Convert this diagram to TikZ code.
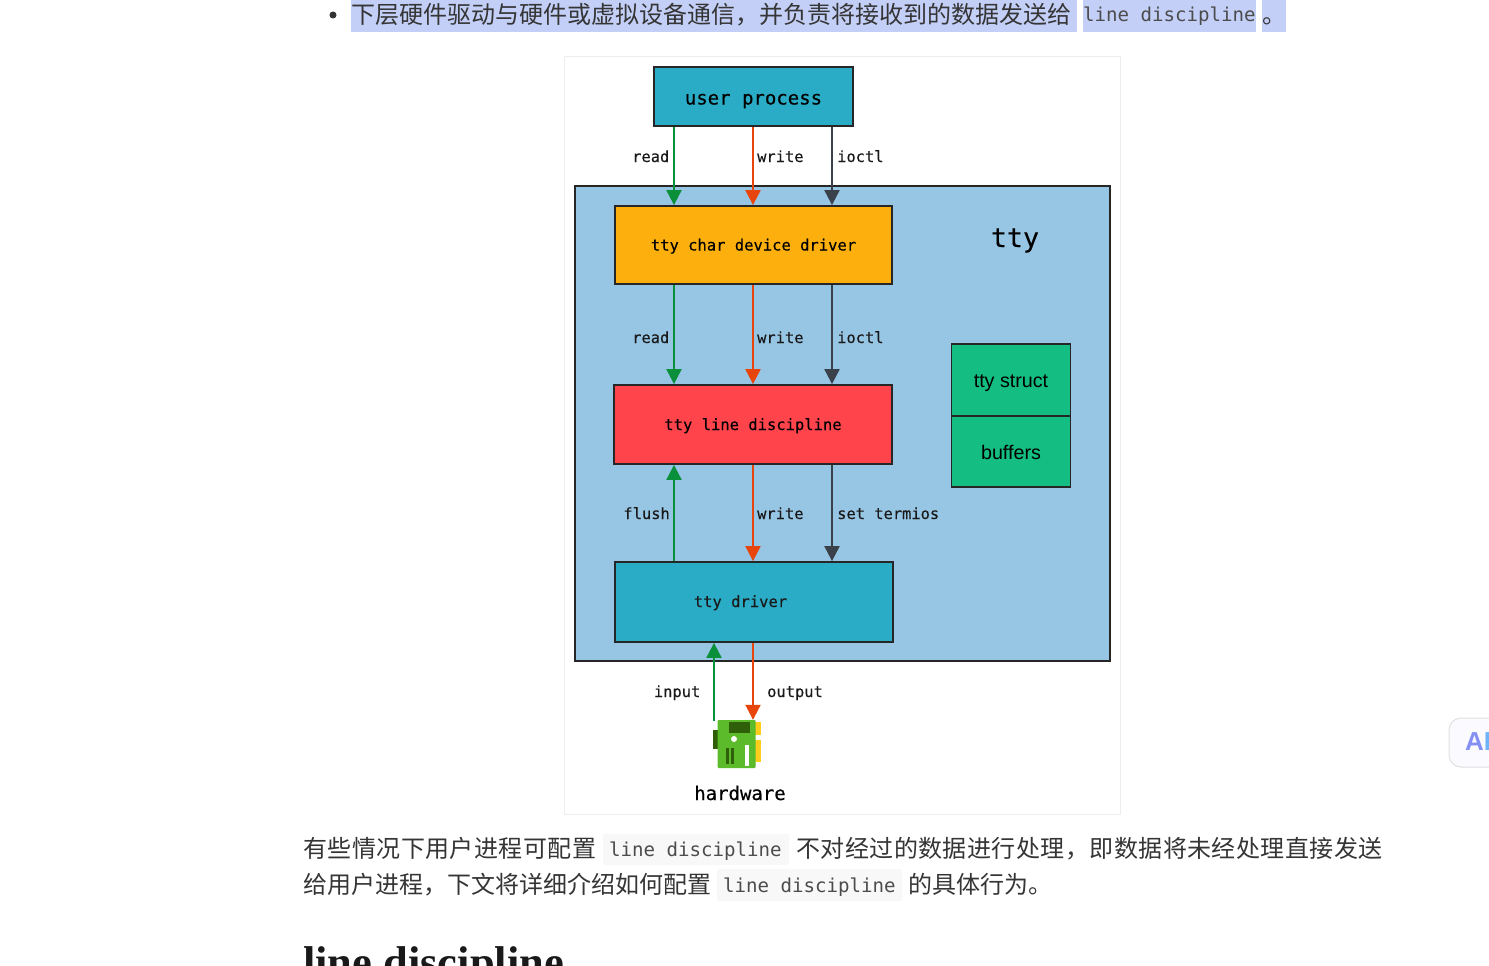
\documentclass[tikz,border=0pt]{standalone}
\usepackage{xcolor}
\usepackage{fontspec}
\setmainfont{Liberation Sans}
\setmonofont{DejaVu Sans Mono}
\newfontfamily\diagfont[FakeBold=0.25]{DejaVu Sans Mono}
\newfontfamily\cjk{Noto Sans CJK SC}
\newfontfamily\cjkwide[LetterSpace=1.9]{Noto Sans CJK SC}
\newfontfamily\headfont{Liberation Serif}
\usetikzlibrary{arrows.meta}

\definecolor{boxcyan}{HTML}{2AABC6}
\definecolor{boxorange}{HTML}{FDB00D}
\definecolor{boxred}{HTML}{FF444C}
\definecolor{boxblue}{HTML}{97C5E4}
\definecolor{boxgreen}{HTML}{14BE82}
\definecolor{linegreen}{HTML}{0A8F3B}
\definecolor{lineorange}{HTML}{E8450D}
\definecolor{linedark}{HTML}{3A414A}
\definecolor{bodytext}{HTML}{353535}
\definecolor{selectbg}{HTML}{C3CFF7}
\definecolor{chipbg}{HTML}{F8F8F8}
\definecolor{chipgreen}{HTML}{5CBB2A}
\definecolor{chipdark}{HTML}{2F5F08}
\definecolor{chipyellow}{HTML}{FFCE1C}
\definecolor{aiviolet}{HTML}{8590F5}
\definecolor{aiblue}{HTML}{6FB4F8}

\begin{document}
\begin{tikzpicture}[x=1pt,y=-1pt,
    box/.style={draw=black!85, line width=1.8pt, inner sep=0pt},
    flow/.style={line width=2pt, -{Triangle[width=15pt,length=15pt]}},
    lbl/.style={font=\fontsize{15.4}{16}\selectfont\diagfont, text=black!90, inner sep=0pt, anchor=base},
    para/.style={font=\fontsize{24}{26}\selectfont\cjk, text=bodytext, anchor=base west, inner sep=0pt},
    widepara/.style={para, font=\fontsize{24}{26}\selectfont\cjkwide},
    code/.style={font=\fontsize{19.1}{20}\selectfont\ttfamily, text=black!70, anchor=base west, inner sep=0pt},
    chip/.style={fill=chipbg, rounded corners=2pt, draw=none},
    boxtext/.style={text height=11pt, text depth=0pt}
  ]
  \useasboundingbox (0,0) rectangle (1489,966);
  \clip (0,0) rectangle (1489,966);
  \fill[white] (0,0) rectangle (1489,966);

  % text above the picture
  \fill[black!80] (333,15) circle (3.5);
  \fill[selectbg] (351,0) rectangle (1077,32);
  \fill[selectbg] (1083,0) rectangle (1256,32);
  \fill[selectbg] (1262,0) rectangle (1286,32);
  \node[para] (topline) at (351,24) {下层硬件驱动与硬件或虚拟设备通信，并负责将接收到的数据发送给};
  \node[code] (topcode) at (1083,22) {line discipline};
  \node[para] (topdot) at (1262,24) {。};

  % picture frame
  \draw[black!7, line width=1pt] (564.5,56.5) rectangle (1120.5,814.5);

  \node[box, fill=boxcyan, minimum width=199pt, minimum height=59pt, boxtext, text height=16pt,
    font=\fontsize{19}{20}\selectfont\diagfont] (user) at (753.5,96.5) {user process};
  \node[box, fill=boxblue, minimum width=535pt, minimum height=475pt] (tty) at (842.5,423.5) {};
  \node[font=\fontsize{26.6}{28}\selectfont\diagfont, inner sep=0pt, anchor=base] (ttylabel) at (1015,247) {tty};

  \node[box, fill=boxorange, minimum width=277pt, minimum height=78pt, boxtext,
    font=\fontsize{15.5}{16}\selectfont\diagfont] (chardev) at (753.5,245) {tty char device driver};
  \node[box, fill=boxred, minimum width=278pt, minimum height=79pt, boxtext,
    font=\fontsize{15.5}{16}\selectfont\diagfont] (linedisc) at (753,424.5) {tty line discipline};
  \node[box, fill=boxcyan, minimum width=278pt, minimum height=80pt] (ttydrv) at (754,602) {};
  \node[lbl, font=\fontsize{15.5}{16}\selectfont\diagfont] (ttydrvlabel) at (740.5,607) {tty driver};

  \node[box, fill=boxgreen, minimum width=119pt, minimum height=72pt, text height=15pt, text depth=0pt,
    font=\fontsize{19.7}{20}\selectfont] (ttystruct) at (1011,380) {tty struct};
  \node[box, fill=boxgreen, minimum width=119pt, minimum height=71pt, text height=15pt, text depth=0pt,
    font=\fontsize{19.7}{20}\selectfont] (buffers) at (1011,451.5) {buffers};

  % hardware icon
  \fill[chipdark] (713,730) rectangle (718,749);
  \fill[chipyellow] (755,722) rectangle (761,735);
  \fill[chipyellow] (755,740) rectangle (761,762);
  \node[fill=chipgreen, minimum width=38pt, minimum height=48pt, inner sep=0pt, rounded corners=1pt] (chipicon) at (736.5,744) {};
  \fill[chipdark] (729,722) rectangle (750,733);
  \fill[white] (734,739) circle (3);
  \fill[chipdark] (726,748) rectangle (729,764);
  \fill[chipdark] (730.5,748) rectangle (733.5,764);
  \fill[white] (745,745) rectangle (748.5,766);
  \node[font=\fontsize{19}{20}\selectfont\diagfont, inner sep=0pt, anchor=base] (hardware) at (740,800) {hardware};

  % arrow columns
  \coordinate (readx) at (674,0);
  \coordinate (writex) at (753,0);
  \coordinate (ioctlx) at (832,0);
  \coordinate (inputx) at (714,0);
  \coordinate (inputend) at (714,721);

  \draw[flow, linegreen] (user.south -| readx) -- (chardev.north -| readx);
  \draw[flow, lineorange] (user.south -| writex) -- (chardev.north -| writex);
  \draw[flow, linedark] (user.south -| ioctlx) -- (chardev.north -| ioctlx);

  \draw[flow, linegreen] (chardev.south -| readx) -- (linedisc.north -| readx);
  \draw[flow, lineorange] (chardev.south -| writex) -- (linedisc.north -| writex);
  \draw[flow, linedark] (chardev.south -| ioctlx) -- (linedisc.north -| ioctlx);

  \draw[flow, linegreen] (ttydrv.north -| readx) -- (linedisc.south -| readx);
  \draw[flow, lineorange] (linedisc.south -| writex) -- (ttydrv.north -| writex);
  \draw[flow, linedark] (linedisc.south -| ioctlx) -- (ttydrv.north -| ioctlx);

  \draw[flow, linegreen] (inputend) -- (ttydrv.south -| inputx);
  \draw[flow, lineorange] (ttydrv.south -| writex) -- (chipicon.north -| writex);

  % arrow labels
  \node[lbl, anchor=base east] (read1) at (669.5,162) {read};
  \node[lbl, anchor=base west] (write1) at (757,162) {write};
  \node[lbl, anchor=base west] (ioctl1) at (837,162) {ioctl};
  \node[lbl, anchor=base east] (read2) at (669.5,343) {read};
  \node[lbl, anchor=base west] (write2) at (757,343) {write};
  \node[lbl, anchor=base west] (ioctl2) at (837,343) {ioctl};
  \node[lbl, anchor=base east] (flush) at (670,519) {flush};
  \node[lbl, anchor=base west] (write3) at (757,519) {write};
  \node[lbl, anchor=base west] (termios) at (837,519) {set termios};
  \node[lbl, anchor=base east] (input) at (700.5,697) {input};
  \node[lbl, anchor=base west] (output) at (767,697) {output};

  % text below the picture
  \fill[chip] (603,834) rectangle (789,865);
  \fill[chip] (717,869) rectangle (902,901);
  \node[widepara] (para1a) at (303,857) {有些情况下用户进程可配置};
  \node[code] (para1b) at (609,856) {line discipline};
  \node[widepara] (para1c) at (796,857) {不对经过的数据进行处理，即数据将未经处理直接发送};
  \node[para] (para2a) at (303,893) {给用户进程，下文将详细介绍如何配置};
  \node[code] (para2b) at (723,892) {line discipline};
  \node[para] (para2c) at (908,893) {的具体行为。};
  \node[font=\fontsize{44.5}{46}\selectfont\headfont\bfseries, text=black!90, anchor=base west, inner sep=0pt] (heading) at (303,977) {line discipline};

  % floating button
  \draw[black!12, fill=blue!2, line width=1pt, rounded corners=12pt] (1449,718) rectangle (1510,767);
  \node[font=\fontsize{26}{28}\selectfont\bfseries, anchor=west, inner sep=0pt] (aibutton) at (1465,742) {\textcolor{aiviolet}{A}\textcolor{aiblue}{I}};
\end{tikzpicture}
\end{document}
